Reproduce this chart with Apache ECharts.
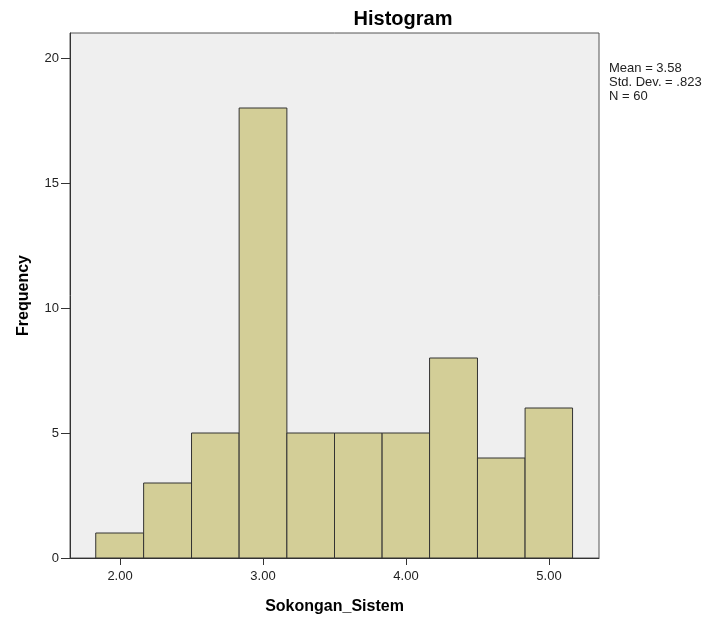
<!DOCTYPE html>
<html>
<head>
<meta charset="utf-8">
<script src="https://cdn.jsdelivr.net/npm/echarts@6/dist/echarts.min.js"></script>
<style>
  html, body { margin: 0; padding: 0; background: #fff; }
  #main { width: 713px; height: 625px; }
</style>
</head>
<body>
<div id="main"></div>
<script>
// histogram data (bin edges, width ~1/3)
var binStart = [1.830, 2.165, 2.5, 2.833, 3.167, 3.5, 3.833, 4.165, 4.5, 4.833];
var binEnd   = [2.165, 2.5, 2.833, 3.167, 3.5, 3.833, 4.165, 4.5, 4.833, 5.165];
var counts   = [1, 3, 5, 18, 5, 5, 5, 8, 4, 6];
var xTicks = [2, 3, 4, 5];
var yTicks = [0, 5, 10, 15, 20];
var statLines = ['Mean = 3.58', 'Std. Dev. = .823', 'N = 60'];

var font = 'Arial, "Liberation Sans", sans-serif';

var seriesData = [];
for (var i = 0; i < counts.length; i++) {
  seriesData.push([binStart[i], binEnd[i], counts[i]]);
}

var chart = echarts.init(document.getElementById('main'));

var option = {
  animation: false,
  title: {
    text: 'Histogram',
    left: 398,
    top: 4,
    textAlign: 'center',
    textStyle: { fontFamily: font, fontSize: 20, fontWeight: 'bold', color: '#000' }
  },
  grid: {
    left: 70, top: 33, right: 114, bottom: 67,
    show: true,
    backgroundColor: '#efefef',
    borderColor: '#555',
    borderWidth: 1
  },
  xAxis: {
    type: 'value',
    min: 1.65,
    max: 5.35,
    name: 'Sokongan_Sistem',
    nameLocation: 'middle',
    nameGap: 41,
    nameTextStyle: { fontFamily: font, fontSize: 16, fontWeight: 'bold', color: '#000' },
    axisLine: { show: true, lineStyle: { color: '#333' } },
    axisTick: { show: true, length: 7, customValues: xTicks, lineStyle: { color: '#333' } },
    axisLabel: {
      customValues: xTicks,
      formatter: function (v) { return v.toFixed(2); },
      fontFamily: font, fontSize: 13, color: '#222', margin: 12
    },
    splitLine: { show: false }
  },
  yAxis: {
    type: 'value',
    min: 0,
    max: 21,
    name: 'Frequency',
    nameLocation: 'middle',
    nameGap: 38,
    nameTextStyle: { fontFamily: font, fontSize: 16, fontWeight: 'bold', color: '#000' },
    axisLine: { show: true, lineStyle: { color: '#333' } },
    axisTick: { show: true, length: 9, customValues: yTicks, lineStyle: { color: '#333' } },
    axisLabel: {
      customValues: yTicks,
      fontFamily: font, fontSize: 13, color: '#222', margin: 11
    },
    splitLine: { show: false }
  },
  graphic: statLines.map(function (s, k) {
    return {
      type: 'text',
      left: 609,
      top: 62 + k * 14,
      style: { text: s, fontFamily: font, fontSize: 13, fill: '#222' }
    };
  }),
  series: [{
    type: 'custom',
    renderItem: function (params, api) {
      var p0 = api.coord([api.value(0), 0]);
      var p1 = api.coord([api.value(1), api.value(2)]);
      return {
        type: 'rect',
        shape: { x: p0[0], y: p1[1], width: p1[0] - p0[0], height: p0[1] - p1[1] },
        style: { fill: '#d3ce97', stroke: '#333', lineWidth: 1 }
      };
    },
    encode: { x: [0, 1], y: 2 },
    data: seriesData
  }]
};

chart.setOption(option);
</script>
</body>
</html>
